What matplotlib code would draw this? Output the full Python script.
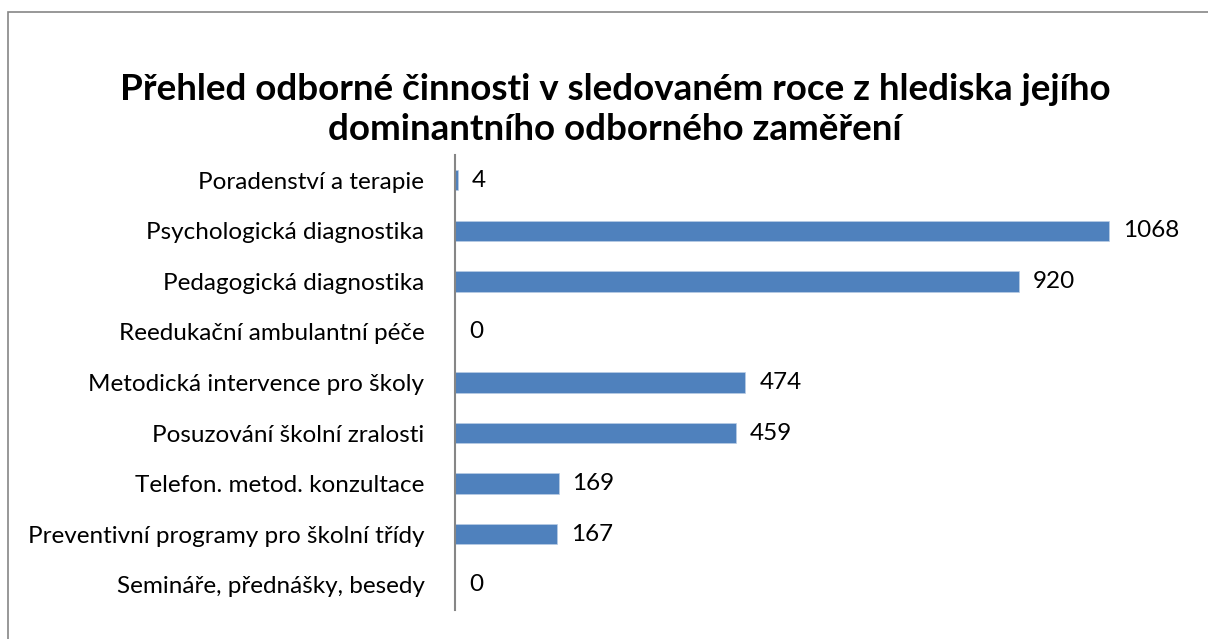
import matplotlib.pyplot as plt
from matplotlib.patches import Rectangle

plt.rcParams['font.family'] = ['Lato', 'DejaVu Sans']

categories = [
    "Poradenství a terapie",
    "Psychologická diagnostika",
    "Pedagogická diagnostika",
    "Reedukační ambulantní péče",
    "Metodická intervence pro školy",
    "Posuzování školní zralosti",
    "Telefon. metod. konzultace",
    "Preventivní programy pro školní třídy",
    "Semináře, přednášky, besedy",
]
values = [4, 1068, 920, 0, 474, 459, 169, 167, 0]
title = "Přehled odborné činnosti v sledovaném roce z hlediska jejího\ndominantního odborného zaměření"

fig = plt.figure(figsize=(12.08, 6.39), dpi=100)
ax = fig.add_axes([0.3767, 0.0454, 0.6085, 0.712])

pos = list(range(len(categories)))
ax.barh(pos, values, height=0.4, color="#4f81bd", edgecolor="#b9cde5", linewidth=0.5)
ax.set_ylim(len(categories) - 0.5, -0.5)
ax.set_xlim(0, 1200)

for y, v in zip(pos, values):
    ax.annotate(str(v), (v, y), xytext=(10, 0), textcoords="offset points",
                va="center", ha="left", fontsize=17.5)

ax.set_yticks(pos)
ax.set_yticklabels(categories, fontsize=17.5)
ax.tick_params(axis="y", length=0, pad=22)
ax.set_xticks([])
for s in ["top", "right", "bottom"]:
    ax.spines[s].set_visible(False)
ax.spines["left"].set_color("#868686")
ax.spines["left"].set_linewidth(1.5)

fig.text(0.509, 0.829, title, ha="center", va="center", fontsize=26.5,
         fontweight="bold", linespacing=1.27)

fig.patches.append(Rectangle((8 / 1208, -0.1), 1.2, 0.1 + 1 - 12 / 639,
                             transform=fig.transFigure, fill=False,
                             edgecolor="#868686", linewidth=1.2))

fig.savefig("out.png", dpi=100)
